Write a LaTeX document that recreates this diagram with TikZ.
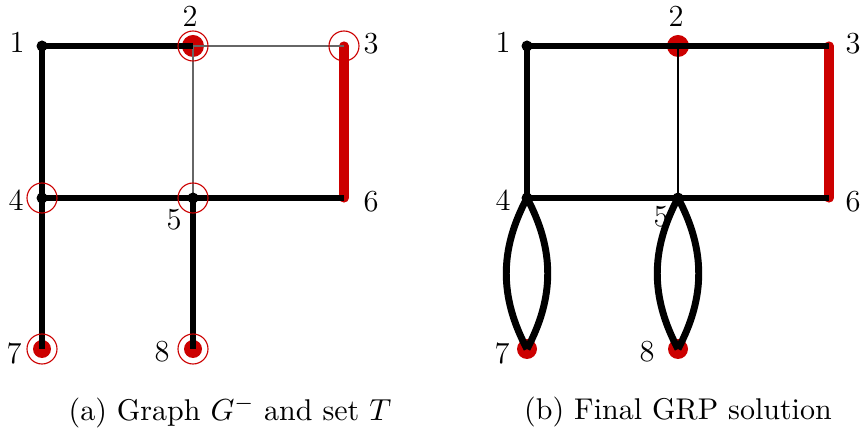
\documentclass[tikz,border=0pt]{standalone}
\definecolor{tred}{RGB}{204,0,0}
\begin{document}
\begin{tikzpicture}[x=0.36pt,y=-0.36pt,
  thick edge/.style={line width=2.5pt,black},
  thin edge/.style={line width=0.45pt,black!60},
  thinb edge/.style={line width=0.45pt,black},
  red edge/.style={line width=3.3pt,tred,line cap=round},
  tring/.style={draw=tred,line width=0.4pt},
  lbl/.style={font=\fontsize{11}{13}\selectfont,inner sep=0pt},
  captext/.style={font=\fontsize{10.8}{13}\selectfont,inner sep=0pt}]
\useasboundingbox (0,0) rectangle (864,437);
% ---------- (a) ----------
\foreach \n/\x/\y in {1/42/46,2/193/46,3/344/46,4/42/198,5/193/198,6/344/198,7/42/349,8/193/349}
  \coordinate (a\n) at (\x,\y);
\draw[red edge] (a3) -- (a6);
\fill[tred] (a2) circle (11);
\fill[tred] (a7) circle (9);
\fill[tred] (a8) circle (9);
\draw[thin edge] (a2) -- (a3);
\draw[thin edge] (a2) -- (a5);
\draw[thin edge] (a4) -- (a6);
\draw[thick edge] (a1) -- (a2);
\draw[thick edge] (a1) -- (a4);
\draw[thick edge] (a4) -- (a6);
\draw[thick edge] (a4) -- (a7);
\draw[thick edge] (a5) -- (a8);
\foreach \n in {1,4,5} \fill (a\n) circle (5.5);
\foreach \n in {2,3,4,5,7,8} \draw[tring] (a\n) circle (15);
\node[lbl] (la1) at (17,42) {1};
\node[lbl] (la2) at (190,16) {2};
\node[lbl] (la3) at (371,44) {3};
\node[lbl] (la4) at (16,200) {4};
\node[lbl] (la5) at (174,220) {5};
\node[lbl] (la6) at (371,202) {6};
\node[lbl] (la7) at (14,353) {7};
\node[lbl] (la8) at (162,352) {8};
\node[captext] (capa) at (230,412) {(a) Graph $G^{-}$ and set $T$};
% ---------- (b) ----------
\foreach \n/\x/\y in {1/527/46,2/678/46,3/829/46,4/527/198,5/678/198,6/829/198,7/527/349,8/678/349}
  \coordinate (b\n) at (\x,\y);
\draw[red edge] (b3) -- (b6);
\fill[tred] (b2) circle (11);
\fill[tred] (b7) circle (10);
\fill[tred] (b8) circle (10);
\draw[thinb edge] (b2) -- (b5);
\draw[thick edge] (b1) -- (b3);
\draw[thick edge] (b1) -- (b4);
\draw[thick edge] (b4) -- (b6);
\draw[thick edge] (b4) to[bend left=28] (b7);
\draw[thick edge] (b4) to[bend right=28] (b7);
\draw[thick edge] (b5) to[bend left=28] (b8);
\draw[thick edge] (b5) to[bend right=28] (b8);
\foreach \n in {1,4,5} \fill (b\n) circle (5.5);
\node[lbl] (lb1) at (503,42) {1};
\node[lbl] (lb2) at (676,16) {2};
\node[lbl] (lb3) at (853,44) {3};
\node[lbl] (lb4) at (503,200) {4};
\node[lbl] (lb5) at (661,217) {5};
\node[lbl] (lb6) at (853,202) {6};
\node[lbl] (lb7) at (502,353) {7};
\node[lbl] (lb8) at (647,352) {8};
\node[captext] (capb) at (678,412) {(b) Final GRP solution};
\end{tikzpicture}
\end{document}
